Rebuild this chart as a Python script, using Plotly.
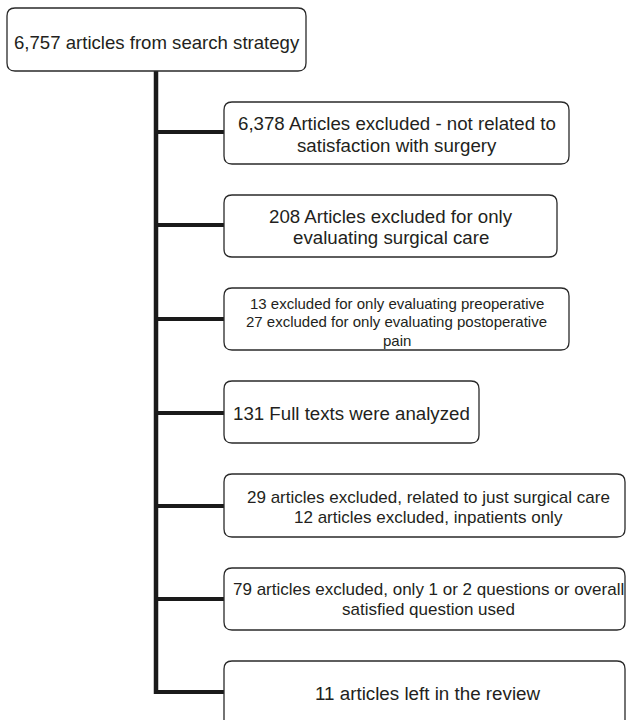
import plotly.graph_objects as go

# ---- content (data) ----
top_label = ["6,757 articles from search strategy"]
step_labels = [
    ["6,378 Articles excluded - not related to", "satisfaction with surgery"],
    ["208 Articles excluded for only", "evaluating surgical care"],
    ["13 excluded for only evaluating preoperative",
     "27 excluded for only evaluating postoperative", "pain"],
    ["131 Full texts were analyzed"],
    ["29 articles excluded, related to just surgical care",
     "12 articles excluded, inpatients only"],
    ["79 articles excluded, only 1 or 2 questions or overall",
     "satisfied question used"],
    ["11 articles left in the review"],
]

# ---- layout (pixel geometry of the diagram, in page pixels) ----
W, H = 626, 720
top_box = dict(x0=7, y0=8, x1=306, y1=71, tx=156.5, ty0=42, dy=22, fs=18.6)
steps_geom = [
    dict(x0=224, y0=102, x1=569, y1=164, by=132, tx=396.5, ty0=123, dy=22, fs=18.7),
    dict(x0=224, y0=195, x1=557, y1=257, by=225, tx=390.5, ty0=216, dy=21.5, fs=18.7),
    dict(x0=224, y0=288, x1=569, y1=350, by=319, tx=396.5, ty0=303, dy=18.5, fs=15),
    dict(x0=224, y0=381, x1=479, y1=443, by=413, tx=351.5, ty0=413, dy=22, fs=18.7),
    dict(x0=224, y0=474, x1=625, y1=537, by=506, tx=428, ty0=497, dy=20, fs=17),
    dict(x0=224, y0=568, x1=625, y1=630, by=599, tx=428, ty0=589, dy=20, fs=17),
    dict(x0=224, y0=661, x1=625, y1=730, by=692, tx=428, ty0=693, dy=22, fs=18.8),
]
spine_x = 156
spine_top = 71
line_color = "#1a1a1a"
box_color = "#2a2a2a"
text_color = "#231f20"
font_family = "Arial, Liberation Sans, sans-serif"


def rounded_rect(x0, y0, x1, y1, r=8):
    return (f"M {x0+r},{y0} L {x1-r},{y0} Q {x1},{y0} {x1},{y0+r} "
            f"L {x1},{y1-r} Q {x1},{y1} {x1-r},{y1} "
            f"L {x0+r},{y1} Q {x0},{y1} {x0},{y1-r} "
            f"L {x0},{y0+r} Q {x0},{y0} {x0+r},{y0} Z")


shapes = []
annotations = []

# spine
shapes.append(dict(type="line", xref="x", yref="y",
                   x0=spine_x, x1=spine_x, y0=spine_top, y1=steps_geom[-1]["by"] + 2,
                   line=dict(color=line_color, width=4.5)))

# branches
for g in steps_geom:
    shapes.append(dict(type="line", xref="x", yref="y",
                       x0=spine_x - 2, x1=g["x0"], y0=g["by"], y1=g["by"],
                       line=dict(color=line_color, width=4)))


def add_box(g, lines):
    shapes.append(dict(type="path", xref="x", yref="y",
                       path=rounded_rect(g["x0"], g["y0"], g["x1"], g["y1"]),
                       fillcolor="white", line=dict(color=box_color, width=1.3)))
    for i, t in enumerate(lines):
        annotations.append(dict(x=g["tx"], y=g["ty0"] + i * g["dy"], xref="x", yref="y",
                                text=t, showarrow=False, xanchor="center", yanchor="middle",
                                font=dict(family=font_family, size=g["fs"], color=text_color)))


add_box(top_box, top_label)
for g, lines in zip(steps_geom, step_labels):
    add_box(g, lines)

fig = go.Figure()
fig.update_layout(
    width=W, height=H,
    margin=dict(l=0, r=0, t=0, b=0),
    paper_bgcolor="white", plot_bgcolor="white",
    xaxis=dict(range=[0, W], visible=False, fixedrange=True),
    yaxis=dict(range=[H, 0], visible=False, fixedrange=True),
    shapes=shapes, annotations=annotations, showlegend=False,
)
fig.write_html(
    "out.html",
    config={"displayModeBar": False},
    post_script="document.body.style.margin='0';document.body.style.overflow='hidden';",
)
